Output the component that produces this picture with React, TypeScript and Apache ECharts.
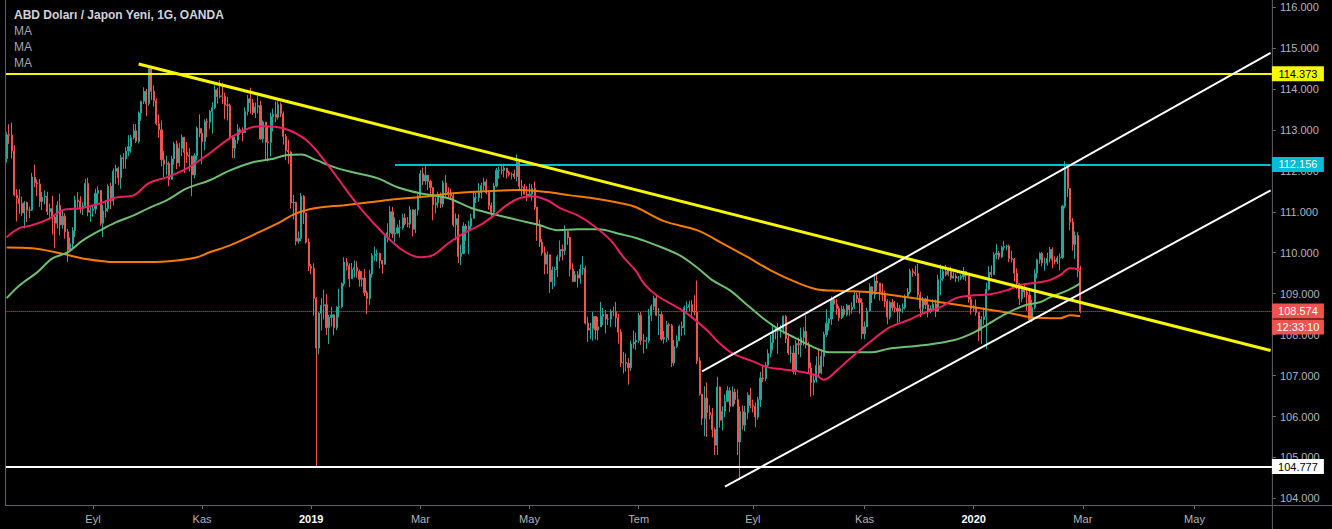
import { useEffect, useRef } from "react";
import * as echarts from "echarts";

// ---------------- DATA (USD/JPY daily, OANDA) ----------------
// each bar: [high, low, close]; FX daily open = previous close
const firstOpen = 112.3;
const jul18 = [
  [112.94, 112.2, 112.88], [113.14, 112.66, 112.87], [113.18, 112.3, 112.48], [112.62, 111.38, 111.41],
  [111.55, 110.76, 111.33], [111.55, 110.95, 111.2], [111.37, 110.9, 110.97], [111.26, 110.59, 111.22],
  [111.25, 110.75, 111.04], [111.13, 110.84, 111.04], [111.95, 111.02, 111.85],
];
const aug18 = [
  [112.15, 111.6, 111.71], [111.79, 111.38, 111.68], [111.8, 111.12, 111.25], [111.48, 111.04, 111.36],
  [111.52, 111.18, 111.38], [111.49, 110.92, 111.0], [111.2, 110.81, 111.08], [111.39, 110.44, 110.87],
  [110.93, 110.11, 110.72], [111.26, 110.59, 111.16], [111.44, 110.42, 110.68], [111.05, 110.58, 110.89],
  [110.96, 110.34, 110.51], [110.58, 109.77, 110.07], [110.37, 110.02, 110.22], [110.62, 110.09, 110.54],
  [111.39, 110.38, 111.29], [111.48, 111.05, 111.25], [111.38, 110.96, 111.09], [111.23, 110.92, 111.14],
  [111.8, 111.12, 111.69], [111.83, 110.89, 110.99], [111.11, 110.75, 111.03],
];
const sep18 = [
  [111.14, 110.88, 111.07], [111.56, 110.95, 111.45], [111.62, 111.21, 111.52], [111.51, 110.66, 110.72],
  [111.17, 110.38, 111.02], [111.24, 110.86, 111.08], [111.67, 111.0, 111.62], [111.71, 111.07, 111.27],
  [112.06, 111.15, 111.99], [112.15, 111.68, 112.06], [112.1, 111.65, 111.83], [112.39, 111.56, 112.32],
  [112.43, 112.05, 112.29], [112.58, 112.05, 112.48], [112.87, 112.36, 112.59], [112.88, 112.44, 112.81],
  [113.14, 112.77, 112.98], [113.14, 112.68, 112.72], [113.45, 112.67, 113.41], [113.7, 113.22, 113.7],
];
const oct18 = [
  [114.04, 113.63, 113.94], [114.0, 113.33, 113.64], [114.55, 113.59, 114.49], [114.55, 113.73, 113.94],
  [114.09, 113.57, 113.71], [113.77, 113.11, 113.15], [113.38, 112.81, 113.0], [113.23, 112.11, 112.27],
  [112.48, 111.84, 112.16], [112.37, 111.89, 112.18], [112.23, 111.63, 111.79], [112.37, 111.79, 112.29],
  [112.71, 112.15, 112.66], [112.74, 112.04, 112.19], [112.68, 112.1, 112.55], [112.89, 112.36, 112.82],
  [112.83, 111.95, 112.45], [112.7, 112.19, 112.38], [112.55, 111.98, 112.35], [112.37, 111.38, 111.9],
  [112.43, 111.82, 112.37], [113.08, 112.25, 113.04], [113.38, 112.82, 112.92],
];
const nov18 = [
  [113.04, 112.16, 112.71], [113.26, 112.5, 113.2], [113.28, 112.82, 113.19], [113.49, 113.03, 113.45],
  [113.67, 112.91, 113.54], [114.09, 113.5, 113.98], [114.03, 113.64, 113.81], [114.21, 113.77, 113.83],
  [114.15, 113.63, 113.82], [113.91, 113.26, 113.61], [113.81, 113.23, 113.59], [113.64, 112.76, 112.82],
  [112.87, 112.31, 112.55], [112.83, 112.3, 112.75], [113.14, 112.66, 113.0], [113.06, 112.88, 112.95],
  [113.06, 112.72, 112.93], [113.55, 112.93, 113.45], [113.85, 113.35, 113.76], [114.03, 113.4, 113.66],
  [113.75, 113.36, 113.42], [113.67, 113.29, 113.56],
];
const dec18 = [
  [113.83, 113.4, 113.59], [113.71, 112.75, 112.78], [113.23, 112.69, 113.19], [113.19, 112.24, 112.7],
  [113.07, 112.23, 112.69], [113.42, 112.35, 113.32], [113.52, 112.96, 113.38], [113.69, 113.19, 113.31],
  [113.7, 113.25, 113.62], [113.67, 113.31, 113.39], [113.45, 112.64, 112.84], [112.9, 112.26, 112.5],
  [112.76, 112.17, 112.46], [112.48, 111.08, 111.22], [111.41, 110.81, 111.23], [111.22, 110.18, 110.28],
  [110.52, 110.22, 110.35], [111.46, 110.28, 111.38], [111.41, 110.7, 110.97], [110.97, 110.22, 110.26],
  [110.35, 109.55, 109.67],
];
const jan19 = [
  [109.72, 109.48, 109.62], [109.74, 108.46, 108.88], [108.92, 104.78, 107.67], [108.55, 107.52, 108.52],
  [108.89, 108.1, 108.71], [109.1, 108.37, 108.73], [108.99, 107.99, 108.17], [108.48, 107.77, 108.42],
  [108.68, 108.2, 108.48], [108.5, 107.98, 108.17], [108.69, 108.11, 108.67], [109.12, 108.42, 108.68],
  [109.28, 108.64, 109.24], [109.89, 109.18, 109.77], [109.87, 109.57, 109.68], [109.74, 109.16, 109.36],
  [109.75, 109.38, 109.59], [109.81, 109.4, 109.64], [109.79, 109.39, 109.55], [109.59, 109.17, 109.35],
  [109.55, 109.17, 109.38], [109.6, 108.94, 109.02], [109.07, 108.5, 108.88],
];
const feb19 = [
  [109.58, 108.73, 109.48], [109.99, 109.39, 109.93], [110.15, 109.8, 109.96], [110.08, 109.78, 109.98],
  [110.0, 109.62, 109.81], [109.82, 109.49, 109.72], [110.43, 109.71, 110.38], [110.72, 110.25, 110.49],
  [111.14, 110.37, 111.0], [111.12, 110.36, 110.46], [110.86, 110.25, 110.48], [110.69, 110.45, 110.61],
  [110.8, 110.37, 110.61], [110.95, 110.56, 110.85], [110.96, 110.67, 110.71], [110.87, 110.62, 110.7],
  [111.14, 110.6, 111.05], [111.06, 110.4, 110.57], [111.07, 110.48, 111.04], [111.43, 110.91, 111.38],
];
const mar19 = [
  [112.02, 111.33, 111.93], [112.08, 111.65, 111.75], [112.14, 111.66, 111.89], [111.9, 111.53, 111.74],
  [111.78, 111.37, 111.59], [111.45, 110.79, 111.17], [111.35, 110.96, 111.22], [111.49, 111.1, 111.36],
  [111.47, 111.09, 111.19], [111.76, 111.11, 111.7], [111.9, 111.37, 111.48], [111.6, 111.32, 111.43],
  [111.56, 111.29, 111.39], [111.45, 110.63, 110.68], [110.96, 110.3, 110.83], [110.94, 109.75, 109.91],
  [110.2, 109.7, 109.98], [110.74, 109.96, 110.65], [110.7, 110.29, 110.56], [110.78, 109.96, 110.65],
  [110.95, 110.58, 110.84],
];
const apr19 = [
  [111.49, 110.86, 111.35], [111.46, 111.21, 111.35], [111.7, 111.24, 111.47], [111.71, 111.32, 111.64],
  [111.83, 111.51, 111.73], [111.8, 111.43, 111.47], [111.52, 111.05, 111.15], [111.22, 110.84, 110.99],
  [111.7, 110.92, 111.63], [112.07, 111.59, 112.01], [112.1, 111.81, 112.02], [112.17, 111.91, 112.01],
  [112.17, 111.84, 112.07], [112.04, 111.81, 111.96], [112.0, 111.86, 111.91], [111.96, 111.79, 111.92],
  [112.03, 111.8, 111.86], [112.4, 111.74, 112.21], [112.21, 111.5, 111.62], [111.78, 111.38, 111.6],
  [111.68, 111.42, 111.43], [111.62, 111.26, 111.38],
];
const may19 = [
  [111.69, 111.37, 111.43], [111.67, 111.27, 111.57], [111.74, 111.05, 111.11], [111.11, 110.29, 110.68],
  [110.81, 110.14, 110.26], [110.33, 109.93, 110.0], [110.15, 109.47, 109.72], [110.03, 109.48, 109.95],
  [109.96, 109.02, 109.29], [109.66, 109.11, 109.58], [109.66, 109.18, 109.59], [109.95, 109.41, 109.9],
  [110.3, 109.79, 110.08], [110.2, 109.81, 110.05], [110.67, 109.94, 110.52], [110.53, 110.19, 110.37],
  [110.38, 109.42, 109.6], [109.74, 109.28, 109.3], [109.55, 109.28, 109.46], [109.55, 109.15, 109.38],
  [109.71, 109.24, 109.6], [109.92, 109.46, 109.62], [109.68, 108.25, 108.28],
];
const jun19 = [
  [108.44, 107.82, 108.11], [108.29, 107.89, 108.15], [108.56, 107.85, 108.44], [108.45, 107.88, 108.11],
  [108.43, 107.86, 108.19], [108.8, 108.3, 108.45], [108.65, 108.23, 108.49], [108.6, 108.03, 108.38],
  [108.5, 108.23, 108.38], [108.62, 108.19, 108.57], [108.68, 108.45, 108.56], [108.8, 108.18, 108.41],
  [108.51, 107.78, 108.06], [108.13, 107.21, 107.31], [107.58, 107.05, 107.32], [107.54, 107.1, 107.3],
  [107.43, 106.78, 107.19], [107.85, 107.12, 107.77], [108.1, 107.66, 107.82], [108.05, 107.63, 107.86],
];
const jul19 = [
  [108.53, 107.8, 108.47], [108.55, 107.75, 107.86], [108.02, 107.54, 107.84], [107.94, 107.65, 107.85],
  [108.63, 107.8, 108.47], [108.74, 108.33, 108.69], [108.95, 108.6, 108.89], [108.99, 108.45, 108.47],
  [108.65, 107.99, 108.49], [108.56, 107.85, 107.89], [108.09, 107.78, 107.93], [108.33, 107.82, 108.24],
  [108.29, 107.86, 108.22], [108.26, 107.21, 107.31], [107.87, 107.24, 107.71], [107.98, 107.67, 107.85],
  [108.24, 107.84, 108.2], [108.32, 107.97, 108.17], [108.71, 107.99, 108.66], [108.81, 108.55, 108.67],
  [108.83, 108.57, 108.73], [108.84, 108.42, 108.57], [108.96, 108.47, 108.55],
];
const aug19 = [
  [109.32, 107.28, 107.36], [107.45, 106.51, 106.55], [106.55, 105.79, 105.95], [106.74, 105.52, 106.45],
  [106.83, 105.5, 106.1], [106.28, 105.93, 106.04], [106.21, 105.49, 105.68], [105.73, 105.06, 105.3],
  [106.97, 105.06, 106.72], [106.73, 105.73, 105.91], [106.25, 105.66, 106.13], [106.54, 105.99, 106.37],
  [106.74, 106.4, 106.63], [106.71, 106.11, 106.25], [106.73, 106.24, 106.6], [106.68, 106.3, 106.41],
  [106.66, 105.06, 105.38], [106.24, 104.45, 106.12], [106.27, 105.68, 105.79], [106.26, 105.64, 106.1],
  [106.59, 105.93, 106.52], [106.7, 106.21, 106.27],
];
const sep19 = [
  [106.41, 106.1, 106.25], [106.34, 105.74, 105.99], [106.48, 105.92, 106.41], [107.09, 106.23, 106.94],
  [107.23, 106.84, 106.92], [107.33, 106.86, 107.25], [107.64, 107.2, 107.54], [107.99, 107.45, 107.8],
  [108.26, 107.62, 108.08], [108.19, 107.88, 108.09], [108.28, 107.53, 108.13], [108.24, 107.92, 108.13],
  [108.47, 108.02, 108.44], [108.48, 107.79, 107.9], [108.04, 107.5, 107.55], [107.72, 107.31, 107.55],
  [107.74, 107.03, 107.1], [107.86, 107.01, 107.78], [107.93, 107.51, 107.75], [108.17, 107.45, 107.93],
  [108.18, 107.73, 108.08],
];
const oct19 = [
  [108.47, 107.66, 107.75], [107.82, 107.04, 107.18], [107.32, 106.48, 106.83], [107.05, 106.52, 106.89],
  [107.47, 106.83, 107.25], [107.63, 106.94, 107.06], [107.64, 107.03, 107.47], [108.07, 107.22, 108.0],
  [108.62, 107.94, 108.28], [108.4, 108.1, 108.38], [108.93, 108.24, 108.86], [108.88, 108.56, 108.74],
  [108.87, 108.48, 108.64], [108.7, 108.33, 108.41], [108.71, 108.38, 108.62], [108.7, 108.44, 108.49],
  [108.75, 108.44, 108.71], [108.73, 108.46, 108.61], [108.79, 108.51, 108.67], [109.07, 108.63, 108.96],
  [109.02, 108.77, 108.88], [109.05, 108.51, 108.78], [108.88, 107.89, 108.02],
];
const nov19 = [
  [108.32, 107.89, 108.19], [108.66, 108.2, 108.58], [109.25, 108.55, 109.17], [109.18, 108.77, 108.98],
  [109.49, 108.87, 109.31], [109.48, 109.06, 109.26], [109.24, 108.83, 109.04], [109.25, 108.82, 108.98],
  [109.07, 108.67, 108.81], [108.87, 108.25, 108.43], [108.83, 108.37, 108.78], [108.87, 108.58, 108.66],
  [108.82, 108.54, 108.64], [108.78, 108.27, 108.57], [108.72, 108.31, 108.64], [108.76, 108.53, 108.66],
  [108.98, 108.61, 108.94], [109.14, 108.92, 109.04], [109.61, 108.99, 109.55], [109.61, 109.41, 109.52],
  [109.68, 109.43, 109.49],
];
const dec19 = [
  [109.73, 108.87, 108.97], [109.05, 108.43, 108.64], [108.92, 108.52, 108.87], [108.9, 108.62, 108.73],
  [108.95, 108.42, 108.57], [108.71, 108.52, 108.63], [108.86, 108.59, 108.75], [108.86, 108.43, 108.57],
  [109.46, 108.55, 109.34], [109.71, 108.97, 109.37], [109.62, 109.31, 109.54], [109.7, 109.42, 109.47],
  [109.64, 109.43, 109.59], [109.66, 109.33, 109.38], [109.52, 109.37, 109.43], [109.49, 109.28, 109.38],
  [109.43, 109.29, 109.38], [109.47, 109.33, 109.42], [109.65, 109.34, 109.54], [109.56, 109.31, 109.44],
  [109.45, 108.78, 108.86], [108.92, 108.49, 108.64],
];
const jan20 = [
  [108.73, 108.55, 108.68], [108.86, 108.46, 108.54], [108.55, 107.84, 108.1], [108.45, 107.77, 108.37],
  [108.67, 108.24, 108.44], [109.27, 107.65, 109.11], [109.67, 109.07, 109.52], [109.69, 109.4, 109.47],
  [110.01, 109.45, 109.95], [110.21, 109.84, 109.99], [110.04, 109.83, 109.9], [110.17, 109.87, 110.13],
  [110.29, 110.05, 110.15], [110.2, 110.06, 110.16], [110.2, 109.77, 109.86], [110.05, 109.77, 109.84],
  [109.87, 109.3, 109.5], [109.62, 109.11, 109.25], [109.16, 108.72, 108.88], [109.2, 108.79, 109.1],
  [109.25, 108.91, 109.04], [109.13, 108.58, 108.97], [109.13, 108.3, 108.36],
];
const feb20 = [
  [108.85, 108.31, 108.66], [109.59, 108.62, 109.5], [109.85, 109.37, 109.83], [110.01, 109.73, 109.98],
  [110.02, 109.67, 109.75], [109.88, 109.56, 109.75], [110.0, 109.68, 109.86], [110.14, 109.76, 110.08],
  [110.13, 109.62, 109.82], [109.91, 109.71, 109.78], [109.93, 109.72, 109.87], [109.98, 109.57, 109.88],
  [111.16, 109.85, 111.14], [112.23, 111.08, 112.08], [112.16, 111.36, 111.57], [111.55, 110.55, 110.75],
  [110.85, 110.05, 110.2], [110.52, 109.85, 110.42], [110.5, 109.4, 109.55], [109.68, 108.52, 108.574],
];

// moving averages: [bar index, value]
const maPink = [
  [0, 110.38], [5, 110.6], [10, 110.67], [17, 110.84], [22, 111.04], [30, 111.09], [37, 111.21], [43, 111.35],
  [50, 111.4], [56, 111.7], [63, 111.84], [71, 112.06], [80, 112.43], [88, 112.8], [97, 113.07], [101, 113.09],
  [109, 113.04], [118, 112.75], [126, 112.19], [133, 111.6], [140, 111.04], [148, 110.5], [156, 110.06],
  [163, 109.89], [168, 109.94], [174, 110.23], [180, 110.47], [187, 110.69], [192, 110.91], [197, 111.16],
  [202, 111.33], [207, 111.38], [213, 111.28], [218, 111.09], [225, 110.91], [231, 110.67], [238, 110.3],
  [243, 109.89], [248, 109.55], [251, 109.25], [256, 108.96], [263, 108.71], [269, 108.47], [276, 108.1],
  [281, 107.78], [286, 107.54], [293, 107.37], [300, 107.2], [306, 107.15], [314, 107.08], [319, 107.0],
  [322, 106.9], [327, 107.12], [332, 107.4], [341, 107.86], [348, 108.18], [355, 108.35], [361, 108.52],
  [368, 108.67], [374, 108.89], [381, 108.96], [387, 108.98], [394, 109.08], [399, 109.2], [407, 109.28],
  [411, 109.33], [415, 109.45], [419, 109.62], [423, 109.59],
];
const maGreen = [
  [0, 108.89], [5, 109.2], [12, 109.52], [18, 109.86], [24, 110.01], [30, 110.3], [37, 110.55], [43, 110.74],
  [50, 110.91], [56, 111.09], [63, 111.28], [71, 111.57], [80, 111.77], [88, 112.01], [97, 112.21], [104, 112.28],
  [110, 112.38], [116, 112.4], [122, 112.26], [129, 112.09], [136, 111.97], [146, 111.82], [154, 111.6],
  [163, 111.45], [174, 111.33], [183, 111.09], [192, 110.94], [202, 110.79], [210, 110.67], [217, 110.55],
  [225, 110.57], [233, 110.57], [242, 110.45], [248, 110.36], [256, 110.18], [265, 109.94], [272, 109.64],
  [278, 109.33], [285, 109.08], [292, 108.71], [298, 108.4], [305, 108.1], [311, 107.91], [318, 107.69],
  [324, 107.57], [332, 107.57], [341, 107.57], [348, 107.66], [361, 107.74], [373, 107.86], [381, 108.05],
  [387, 108.27], [394, 108.52], [401, 108.71], [407, 108.79], [411, 108.91], [418, 109.08], [423, 109.25],
];
const maOrange = [
  [0, 110.13], [10, 110.11], [21, 109.99], [30, 109.86], [43, 109.77], [56, 109.77], [67, 109.81], [75, 109.89],
  [80, 110.01], [88, 110.18], [97, 110.43], [107, 110.72], [114, 110.96], [122, 111.09], [133, 111.16],
  [143, 111.23], [154, 111.31], [163, 111.36], [176, 111.45], [189, 111.5], [202, 111.53], [213, 111.48],
  [222, 111.4], [231, 111.33], [242, 111.21], [248, 111.11], [259, 110.77], [272, 110.55], [282, 110.23],
  [292, 109.89], [301, 109.57], [311, 109.28], [319, 109.11], [328, 109.07], [341, 109.03], [355, 108.91],
  [368, 108.79], [381, 108.67], [394, 108.54], [404, 108.42], [415, 108.4], [419, 108.47], [423, 108.45],
];

// drawn levels and trend lines: [bar index, price]
const resistanceLevel = 114.373;
const highLevel = 112.156;
const highLevelStart = 153;
const lowLevel = 104.777;
const lastPrice = 108.574;
const countdown = "12:33:10";
const downTrend = [[52, 114.61], [498, 107.61]];
const channelUpper = [[274, 107.1], [498, 114.88]];
const channelLower = [[283, 104.29], [498, 111.52]];

const priceTicks = [104, 105, 106, 107, 108, 109, 110, 111, 112, 113, 114, 115, 116];
const monthNames = ["Oca", "Şub", "Mar", "Nis", "May", "Haz", "Tem", "Ağu", "Eyl", "Eki", "Kas", "Ara"];
const labeledMonths = [0, 2, 4, 6, 8, 10];
const titleText = "ABD Doları / Japon Yeni, 1G, OANDA";
const maLabels = ["MA", "MA", "MA"];

// ---------------- LAYOUT ----------------
const W = 1332;
const H = 529;
const SLOTS = 499;
const GRID_LEFT = 5.4;
const GRID_RIGHT = 60.1;
const GRID_TOP = 0;
const GRID_BOTTOM = 24;
const Y_MIN = 103.839;
const Y_MAX = 116.171;
const FONT = '"Liberation Sans", Arial, sans-serif';

const UP = "#26a69a";
const DOWN = "#ef5350";
const YELLOW = "#f7f700";
const CYAN = "#00bcd4";

function buildDays(): string[] {
  const out: string[] = [];
  const d = new Date(Date.UTC(2018, 6, 17));
  while (out.length < SLOTS) {
    const wd = d.getUTCDay();
    if (wd !== 0 && wd !== 6) out.push(d.toISOString().slice(0, 10));
    d.setUTCDate(d.getUTCDate() + 1);
  }
  return out;
}

export default function App() {
  const ref = useRef<HTMLDivElement>(null);

  useEffect(() => {
    if (!ref.current) return;
    const chart = echarts.init(ref.current, null, { renderer: "svg" });

    const days = buildDays();
    const labelIdx = new Set<number>();
    for (let i = 1; i < days.length; i++) {
      const m = +days[i].slice(5, 7) - 1;
      const pm = +days[i - 1].slice(5, 7) - 1;
      if (m !== pm && labeledMonths.includes(m)) labelIdx.add(i);
    }

    const bars = [
      ...jul18, ...aug18, ...sep18, ...oct18, ...nov18, ...dec18,
      ...jan19, ...feb19, ...mar19, ...apr19, ...may19, ...jun19,
      ...jul19, ...aug19, ...sep19, ...oct19, ...nov19, ...dec19,
      ...jan20, ...feb20,
    ];
    let prev = firstOpen;
    const candles = bars.map(([h, l, c]) => {
      const o = prev;
      prev = c;
      return [o, c, Math.min(l, o, c), Math.max(h, o, c)];
    });

    const maSeries = (data: number[][], color: string) => ({
      type: "line",
      data,
      smooth: 0.35,
      symbol: "none",
      silent: true,
      z: 3,
      lineStyle: { color, width: 2 },
    });
    const trendSeries = (data: number[][], color: string, width: number) => ({
      type: "line",
      data,
      symbol: "none",
      silent: true,
      z: 5,
      lineStyle: { color, width },
    });

    chart.setOption({
      animation: false,
      backgroundColor: "#000000",
      grid: { left: GRID_LEFT, right: GRID_RIGHT, top: GRID_TOP, bottom: GRID_BOTTOM, containLabel: false },
      xAxis: {
        type: "category",
        data: days,
        boundaryGap: true,
        axisLine: { show: false },
        axisTick: {
          show: true,
          interval: (i: number) => labelIdx.has(i),
          alignWithLabel: true,
          length: 4,
          lineStyle: { color: "#6a6d78" },
        },
        axisLabel: {
          interval: (i: number) => labelIdx.has(i),
          color: "#b2b5be",
          fontSize: 11,
          fontFamily: FONT,
          margin: 8,
          formatter: (v: string) => {
            const m = +v.slice(5, 7) - 1;
            return m === 0 ? `{y|${v.slice(0, 4)}}` : monthNames[m];
          },
          rich: { y: { color: "#ffffff", fontWeight: "bold", fontSize: 11, fontFamily: FONT } },
        },
        splitLine: { show: false },
      },
      yAxis: {
        type: "value",
        position: "right",
        min: Y_MIN,
        max: Y_MAX,
        axisLine: { show: false },
        axisTick: { show: true, customValues: priceTicks, length: 4, lineStyle: { color: "#6a6d78" } },
        axisLabel: {
          customValues: priceTicks,
          formatter: (v: number) => v.toFixed(3),
          color: "#b2b5be",
          fontSize: 11,
          fontFamily: FONT,
          margin: 8,
        },
        splitLine: { show: false },
      },
      series: [
        {
          type: "candlestick",
          data: candles,
          barWidth: 1.6,
          z: 2,
          itemStyle: {
            color: UP,
            color0: DOWN,
            borderColor: UP,
            borderColor0: DOWN,
            borderWidth: 1,
          },
          markLine: {
            silent: true,
            symbol: ["none", "none"],
            label: { show: false },
            z: 4,
            data: [
              { yAxis: resistanceLevel, lineStyle: { color: YELLOW, width: 2, type: "solid" } },
              { yAxis: lowLevel, lineStyle: { color: "#ffffff", width: 2, type: "solid" } },
              { yAxis: lastPrice, lineStyle: { color: DOWN, width: 1, type: "dotted" } },
              [
                { coord: [days[highLevelStart], highLevel], lineStyle: { color: CYAN, width: 2, type: "solid" } },
                { coord: [days[SLOTS - 1], highLevel], lineStyle: { color: CYAN, width: 2, type: "solid" } },
              ],
            ],
          },
        },
        maSeries(maOrange, "#f57c00"),
        maSeries(maGreen, "#6fbf73"),
        maSeries(maPink, "#e91e63"),
        trendSeries(downTrend, YELLOW, 3),
        trendSeries(channelUpper, "#ffffff", 2),
        trendSeries(channelLower, "#ffffff", 2),
      ],
    });

    const axisX = W - GRID_RIGHT;
    const plotBottom = H - GRID_BOTTOM;
    const yPx = (v: number) => chart.convertToPixel({ yAxisIndex: 0 }, v) as number;
    const tag = (v: number, text: string, bg: string, fg: string, dy = 0) => [
      {
        type: "rect",
        shape: { x: axisX, y: yPx(v) - 7.5 + dy, width: 52, height: 15 },
        style: { fill: bg },
        z: 100,
      },
      {
        type: "text",
        x: axisX + 26,
        y: yPx(v) + dy,
        style: {
          text,
          fill: fg,
          font: `11px ${FONT}`,
          textAlign: "center",
          textVerticalAlign: "middle",
          align: "center",
          verticalAlign: "middle",
        },
        z: 101,
      },
    ];

    chart.setOption({
      graphic: [
        { type: "line", shape: { x1: 5.5, y1: 0, x2: 5.5, y2: plotBottom }, style: { stroke: "#5d606b", lineWidth: 1 }, z: 50 },
        { type: "line", shape: { x1: 5, y1: plotBottom + 0.5, x2: W, y2: plotBottom + 0.5 }, style: { stroke: "#5d606b", lineWidth: 1 }, z: 50 },
        { type: "line", shape: { x1: axisX + 0.5, y1: 0, x2: axisX + 0.5, y2: H }, style: { stroke: "#5d606b", lineWidth: 1 }, z: 50 },
        {
          type: "text",
          left: 14,
          top: 9,
          style: { text: titleText, fill: "#d1d4dc", font: `bold 12px ${FONT}` },
          z: 60,
        },
        ...maLabels.map((t, i) => ({
          type: "text",
          left: 14,
          top: 25 + i * 16,
          style: { text: t, fill: "#a3a6af", font: `12px ${FONT}` },
          z: 60,
        })),
        ...tag(resistanceLevel, resistanceLevel.toFixed(3), YELLOW, "#000000"),
        ...tag(highLevel, highLevel.toFixed(3), CYAN, "#ffffff"),
        ...tag(lastPrice, lastPrice.toFixed(3), DOWN, "#ffffff"),
        ...tag(lastPrice, countdown, DOWN, "#ffffff", 16),
        ...tag(lowLevel, lowLevel.toFixed(3), "#ffffff", "#000000"),
      ],
    });

    return () => chart.dispose();
  }, []);

  return (
    <div
      ref={ref}
      style={{ position: "fixed", left: 0, top: 0, width: W, height: H, background: "#000" }}
    />
  );
}
